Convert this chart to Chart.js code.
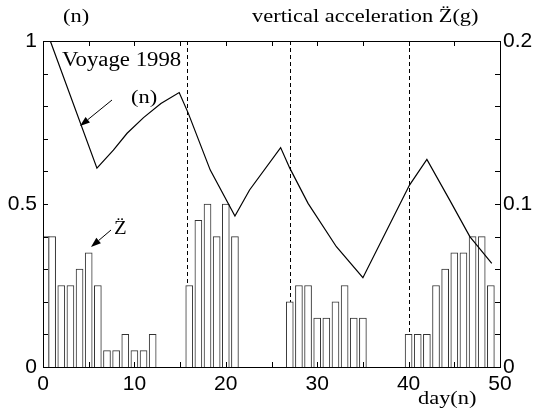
<!DOCTYPE html>
<html>
<head>
<meta charset="utf-8">
<script src="https://cdn.jsdelivr.net/npm/chart.js@4.4.1/dist/chart.umd.min.js"></script>
<style>
  body { margin: 0; background: #fff; }
  canvas { display: block; }
</style>
</head>
<body>
<canvas id="chart" width="535" height="410"></canvas>
<script>
// daily level (n), left axis
const levelDays = [0.8, 5.9, 7.7, 9.2, 11, 12.9, 14.9, 15.9, 18.3, 21.0, 22.6, 26.0, 27.0, 29.0, 32.1, 35.0, 40.1, 42.0, 44.5, 46.7, 49.1];
const levelValues = [1.0, 0.61, 0.665, 0.717, 0.765, 0.808, 0.842, 0.778, 0.604, 0.463, 0.543, 0.673, 0.61, 0.502, 0.369, 0.274, 0.558, 0.637, 0.512, 0.40, 0.318];

// vertical acceleration Z'' (g), right axis
const accelDays = [0.3, 1, 2, 3, 4, 5, 6, 7, 8, 9, 10, 11, 12,
    16, 17, 18, 19, 20, 21,
    27, 28, 29, 30, 31, 32, 33, 34, 35,
    40, 41, 42, 43, 44, 45, 46, 47, 48, 49];
const accelValues = [0.08, 0.08, 0.05, 0.05, 0.06, 0.07, 0.05, 0.01, 0.01, 0.02, 0.01, 0.01, 0.02,
    0.05, 0.09, 0.10, 0.08, 0.10, 0.08,
    0.04, 0.05, 0.05, 0.03, 0.03, 0.04, 0.05, 0.03, 0.03,
    0.02, 0.02, 0.02, 0.05, 0.06, 0.07, 0.07, 0.08, 0.08, 0.05];

// dashed day markers
const markerDays = [15.8, 27, 40];

const xTicks = [0, 10, 20, 30, 40, 50];

const tickFont = { family: '"Liberation Sans", Arial, sans-serif', size: 21 };

// draw text a bit wider like the original serif labels
function serifText(ctx, str, x, y, size, sx) {
    ctx.save();
    ctx.translate(x, y);
    ctx.scale(sx, 1);
    ctx.font = size + 'px "Liberation Serif", "Times New Roman", serif';
    ctx.fillStyle = "#000";
    ctx.textAlign = "left";
    ctx.textBaseline = "alphabetic";
    ctx.fillText(str, 0, 0);
    ctx.restore();
}

function arrow(ctx, x1, y1, x2, y2) {
    const ang = Math.atan2(y2 - y1, x2 - x1);
    const len = 10, half = 3.5;
    ctx.save();
    ctx.strokeStyle = "#000";
    ctx.fillStyle = "#000";
    ctx.lineWidth = 1;
    ctx.beginPath();
    ctx.moveTo(x1, y1);
    ctx.lineTo(x2 - Math.cos(ang) * len, y2 - Math.sin(ang) * len);
    ctx.stroke();
    ctx.beginPath();
    ctx.moveTo(x2, y2);
    ctx.lineTo(x2 - Math.cos(ang) * len - Math.sin(ang) * half, y2 - Math.sin(ang) * len + Math.cos(ang) * half);
    ctx.lineTo(x2 - Math.cos(ang) * len + Math.sin(ang) * half, y2 - Math.sin(ang) * len - Math.cos(ang) * half);
    ctx.closePath();
    ctx.fill();
    ctx.restore();
}

// frame, inward ticks, dashed markers and the text labels
const decorations = {
    id: "decorations",
    beforeDatasetsDraw(chart) {
        const { ctx, chartArea: a, scales } = chart;
        ctx.save();
        ctx.strokeStyle = "#000";
        ctx.lineWidth = 1;
        ctx.setLineDash([4, 3]);
        markerDays.forEach((d) => {
            const px = Math.round(scales.x.getPixelForValue(d)) + 0.5;
            ctx.beginPath();
            ctx.moveTo(px, a.top);
            ctx.lineTo(px, a.bottom);
            ctx.stroke();
        });
        ctx.restore();
    },
    afterDraw(chart) {
        const { ctx, chartArea: a, scales } = chart;
        ctx.save();
        ctx.strokeStyle = "#000";
        ctx.lineWidth = 1;
        ctx.strokeRect(Math.round(a.left) + 0.5, Math.round(a.top) + 0.5,
            Math.round(a.right - a.left), Math.round(a.bottom - a.top));

        const tl = 5;
        ctx.beginPath();
        for (let d = 5; d < 50; d += 5) {
            const px = Math.round(scales.x.getPixelForValue(d)) + 0.5;
            ctx.moveTo(px, a.bottom);
            ctx.lineTo(px, a.bottom - tl);
            ctx.moveTo(px, a.top);
            ctx.lineTo(px, a.top + tl);
        }
        for (let i = 1; i < 10; i++) {
            const py = Math.round(scales.y.getPixelForValue(i / 10)) + 0.5;
            ctx.moveTo(a.left, py);
            ctx.lineTo(a.left + tl, py);
            const py2 = Math.round(scales.y2.getPixelForValue(i * 0.02)) + 0.5;
            ctx.moveTo(a.right, py2);
            ctx.lineTo(a.right - tl, py2);
        }
        ctx.stroke();
        ctx.restore();

        serifText(ctx, "(n)", 63, 22, 19, 1.18);
        serifText(ctx, "vertical acceleration Z\u0308(g)", 252, 22, 19, 1.18);
        serifText(ctx, "Voyage 1998", 62, 66, 20, 1.14);
        serifText(ctx, "(n)", 131, 103, 19, 1.18);
        serifText(ctx, "Z\u0308", 114, 234, 18, 1.15);
        serifText(ctx, "day(n)", 418, 404, 19, 1.18);

        arrow(ctx, 112, 100, 80, 126);
        arrow(ctx, 111, 230, 91, 247);
    }
};

const levelPoints = levelDays.map((d, i) => ({ x: d, y: levelValues[i] }));
const accelPoints = accelDays.map((d, i) => ({ x: d, y: accelValues[i] }));

const noGrid = { display: false, drawTicks: false, tickLength: 0 };

const chart = new Chart(document.getElementById("chart").getContext("2d"), {
    type: "bar",
    data: {
        datasets: [
            {
                type: "line",
                label: "(n)",
                data: levelPoints,
                yAxisID: "y",
                borderColor: "#000",
                borderWidth: 1.2,
                pointRadius: 0,
                tension: 0,
                fill: false,
                order: 0,
            },
            {
                type: "bar",
                label: "Z''",
                data: accelPoints,
                yAxisID: "y2",
                backgroundColor: "#fff",
                borderColor: "#333",
                borderWidth: 1,
                barThickness: 7,
                order: 1,
            },
        ],
    },
    options: {
        responsive: false,
        animation: false,
        layout: { padding: { top: 41, left: 0, right: 0, bottom: 0 } },
        plugins: {
            legend: { display: false },
            tooltip: { enabled: false },
        },
        scales: {
            x: {
                type: "linear",
                min: 0,
                max: 50,
                offset: false,
                grid: noGrid,
                border: { display: true, color: "#000" },
                afterFit: (scale) => { scale.height = 43; },
                afterBuildTicks: (scale) => { scale.ticks = xTicks.map((v) => ({ value: v })); },
                ticks: { font: tickFont, color: "#000", padding: 5, maxRotation: 0 },
            },
            y: {
                position: "left",
                min: 0,
                max: 1,
                grid: noGrid,
                border: { display: true, color: "#000" },
                afterFit: (scale) => { scale.width = 43; },
                ticks: { stepSize: 0.5, font: tickFont, color: "#000", padding: 6,
                    callback: (v) => String(v) },
            },
            y2: {
                position: "right",
                min: 0,
                max: 0.2,
                grid: noGrid,
                border: { display: true, color: "#000" },
                afterFit: (scale) => { scale.width = 35; },
                ticks: { stepSize: 0.1, font: tickFont, color: "#000", padding: 3,
                    callback: (v) => String(Math.round(v * 10) / 10) },
            },
        },
    },
    plugins: [decorations],
});
</script>
</body>
</html>
